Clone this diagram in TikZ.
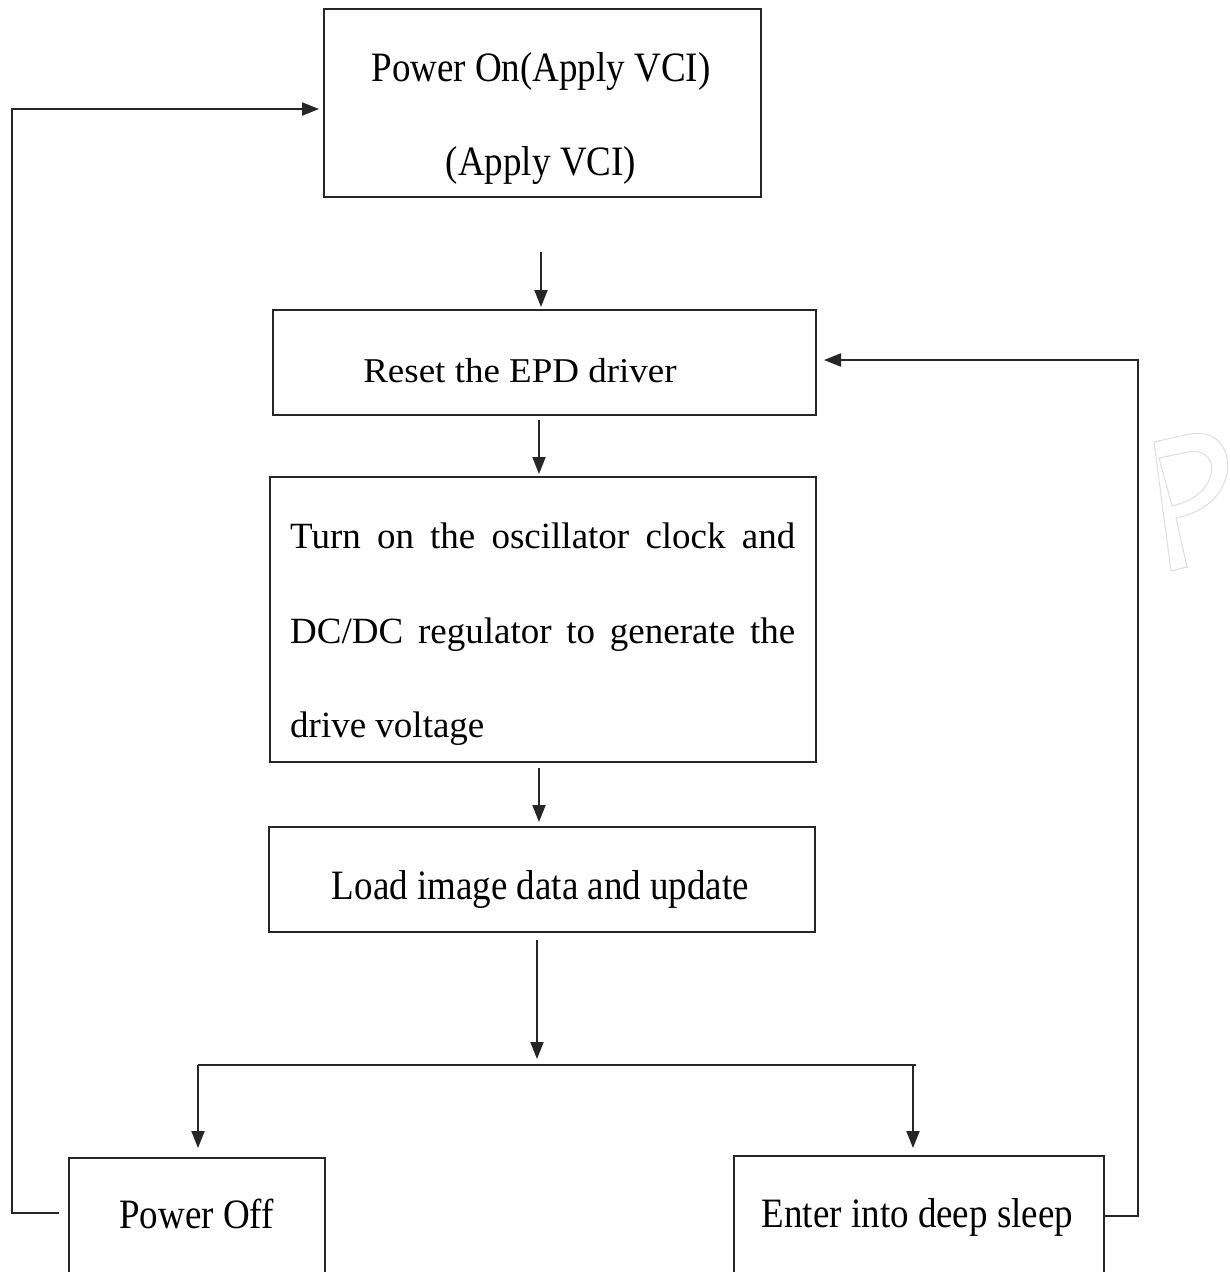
\documentclass[tikz,border=0pt]{standalone}
\usepackage{fontspec}
\setmainfont{Liberation Serif}
\usetikzlibrary{arrows.meta,calc}
\newcommand{\vs}[2]{\scalebox{1}[#1]{#2}}
\begin{document}
\begin{tikzpicture}[x=1pt,y=-1pt,
  box/.style={draw=black!85,line width=2pt,inner sep=0pt,rectangle},
  txt/.style={inner sep=0pt,anchor=base,font=\fontsize{37}{37}\selectfont},
  txtl/.style={inner sep=0pt,anchor=base west,font=\fontsize{37}{37}\selectfont},
  conn/.style={line width=2pt,draw=black!85},
  arr/.style={conn,-{Triangle[length=17pt,width=13pt]}}]
\useasboundingbox[fill=white] (0,0) rectangle (1230,1272);
% watermark
\draw[gray!25,line width=1pt] (1154,442) -- (1190,434) .. controls (1240,425) and (1245,505) .. (1176,518) -- (1187,567) -- (1171,571) -- cycle;
\draw[gray!25,line width=1pt] (1159,458) -- (1188,452) .. controls (1222,446) and (1222,495) .. (1172,506) -- cycle;
% boxes
\node[box,minimum width=437pt,minimum height=187.5pt] (pon) at (542.5,102.75) {};
\node[box,minimum width=543pt,minimum height=104.5pt] (reset) at (544.5,362.25) {};
\node[box,minimum width=546pt,minimum height=284.5pt] (turn) at (542.5,619.25) {};
\node[box,minimum width=546pt,minimum height=105pt] (load) at (542,879.5) {};
\node[box,minimum width=256pt,minimum height=118pt] (poff) at (197,1217) {};
\node[box,minimum width=370.5pt,minimum height=120pt] (sleep) at (918.75,1216) {};
% texts
\node[txt] (pont1) at (541,81) {\vs{1.13}{Power On(Apply VCI)}};
\node[txt] (pont2) at (541,175) {\vs{1.13}{(Apply VCI)}};
\node[txt] (resett) at (520,382) {\vs{0.94}{Reset the EPD driver}};
\node[txtl] (turnt1) at (290,548) {\makebox[505pt][s]{Turn on the oscillator clock and}};
\node[txtl] (turnt2) at (290,643) {\makebox[505pt][s]{DC/DC regulator to generate the}};
\node[txtl] (turnt3) at (290,737) {drive voltage};
\node[txt] (loadt) at (540.5,899) {\vs{1.13}{Load image data and update}};
\node[txt] (pofft) at (196.5,1228) {\vs{1.13}{Power Off}};
\node[txt] (sleept) at (917.5,1227) {\vs{1.13}{Enter into deep sleep}};
% straight arrows
\coordinate (a1) at (541,252);
\draw[arr] (a1) -- ($(a1 |- reset.north)+(0,-2)$);
\coordinate (a2) at (539,420);
\draw[arr] (a2) -- ($(a2 |- turn.north)+(0,-2)$);
\coordinate (a3) at (539,768);
\draw[arr] (a3) -- ($(a3 |- load.north)+(0,-4)$);
% branch
\coordinate (a4) at (537,940);
\coordinate (bl) at (198,1065);
\coordinate (br) at (916,1065);
\draw[arr] (a4) -- (537,1059);
\draw[conn] (bl) -- (br);
\draw[arr] (bl) -- ($(bl |- poff.north)+(0,-9)$);
\draw[arr] (913,1065) -- ($(913,0 |- sleep.north)+(0,-7)$);
% loops
\coordinate (l0) at ($(poff.west)+(-9,-4)$);
\draw[arr] (l0) -- (12,1213) -- (12,109) -- ($(pon.west |- 0,109)+(-4,0)$);
\draw[arr] (sleep.east) -- (1138,1216) -- (1138,360) -- ($(reset.east |- 0,360)+(7,0)$);
\end{tikzpicture}
\end{document}
